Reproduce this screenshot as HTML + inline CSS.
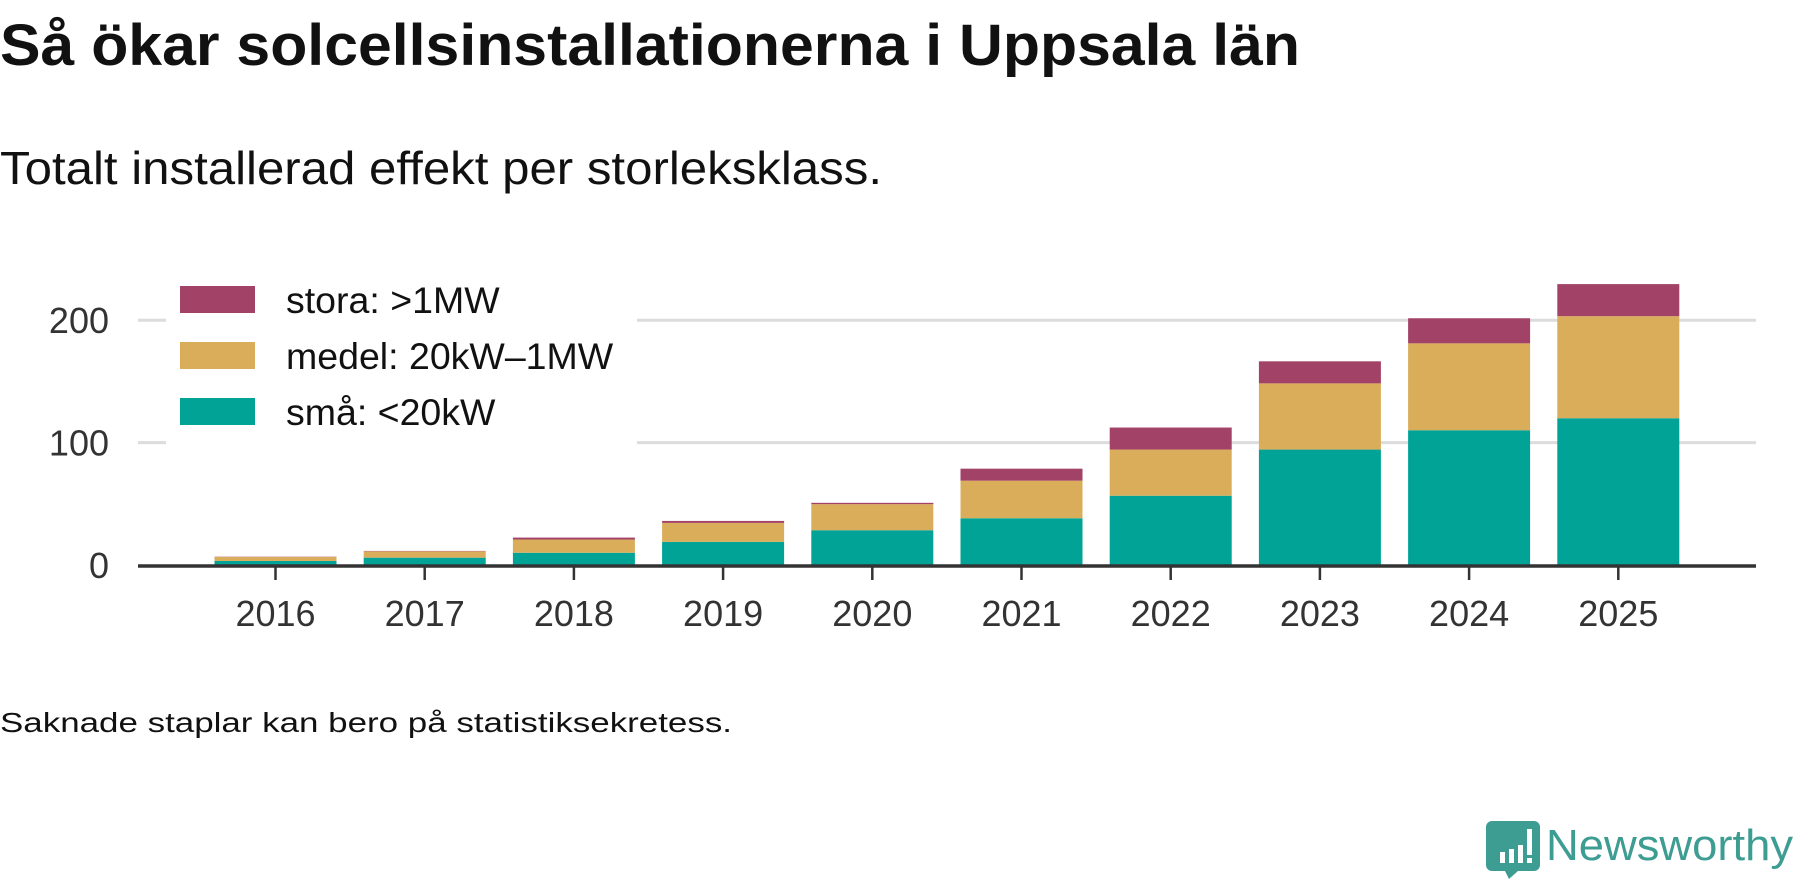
<!DOCTYPE html>
<html><head><meta charset="utf-8"><style>
html,body{margin:0;padding:0;background:#fff;width:1800px;height:879px;overflow:hidden}
svg{display:block;font-family:"Liberation Sans",sans-serif}
</style></head><body>
<svg id="chart" width="1800" height="879" viewBox="0 0 1800 879">
<text x="0" y="65" font-size="58" font-weight="bold" fill="#111" textLength="1300" lengthAdjust="spacingAndGlyphs">Så ökar solcellsinstallationerna i Uppsala län</text>
<text x="0" y="184" font-size="46" fill="#111" textLength="882" lengthAdjust="spacingAndGlyphs">Totalt installerad effekt per storleksklass.</text>
<g id="grid"></g>
<g id="yticks"></g>
<g id="bars"></g>
<g id="xaxis"></g>
<g id="legend"></g>
<text x="0" y="732" font-size="28" fill="#111" textLength="732" lengthAdjust="spacingAndGlyphs">Saknade staplar kan bero på statistiksekretess.</text>
<g>
<path d="M1492 821 h42 a6 6 0 0 1 6 6 v38 a6 6 0 0 1 -6 6 h-16 l-9 8 l-4 -8 h-13 a6 6 0 0 1 -6 -6 v-38 a6 6 0 0 1 6 -6z" fill="#3d9d92"/>
<rect x="1500" y="852" width="5" height="11" fill="#fff"/><rect x="1509" y="849" width="5" height="14" fill="#fff"/><rect x="1518" y="845" width="5" height="18" fill="#fff"/><rect x="1527" y="829" width="5" height="26" fill="#fff"/><rect x="1527" y="858" width="5" height="5" fill="#fff"/>
<text x="1546" y="860" font-size="44" fill="#3d9d92" textLength="247" lengthAdjust="spacingAndGlyphs">Newsworthy</text>
</g>
</svg>
<script>
const years = ["2016","2017","2018","2019","2020","2021","2022","2023","2024","2025"];
const sma = [3.3, 6, 10, 18.9, 28.4, 38.2, 56.6, 94.3, 110.1, 119.9];
const medel = [3.3, 5.2, 10.8, 15.5, 21.3, 30.7, 37.7, 54.1, 71, 83.4];
const stora = [0.2, 0.3, 1.6, 1.6, 1.1, 9.8, 18, 18, 20.5, 26.2];
const yTicks = [0, 100, 200];
const legendLabels = ["stora: >1MW", "medel: 20kW–1MW", "små: <20kW"];
const colors = {sma:"#00a396", medel:"#d9ad5a", stora:"#a34267"};
const NS="http://www.w3.org/2000/svg";
const y = v => 565 - v*1.224;
const x = i => 275.5 + i*149.2;
const BW = 122;
function mk(tag, attrs, parent){const e=document.createElementNS(NS,tag);for(const k in attrs)e.setAttribute(k,attrs[k]);parent.appendChild(e);return e;}
const grid=document.getElementById('grid'), yt=document.getElementById('yticks');
yTicks.forEach(t=>{
  if(t>0){const l=mk('line',{x1:138,x2:1756,y1:y(t),y2:y(t),stroke:'#dcdcdc','stroke-width':3},grid);
  
  }
  const tx=mk('text',{x:109,y:y(t)+13,'font-size':36,fill:'#333','text-anchor':'end'},yt);
  tx.textContent=t;
  
  
});
const bars=document.getElementById('bars');
years.forEach((yr,i)=>{
  let base=0;
  [['sma',sma[i]],['medel',medel[i]],['stora',stora[i]]].forEach(([k,v])=>{
    const r=mk('rect',{x:x(i)-BW/2,y:y(base+v),width:BW,height:y(base)-y(base+v),fill:colors[k]},bars);
    
    
    base+=v;
  });
});
const xa=document.getElementById('xaxis');
const ax=mk('line',{x1:138,x2:1756,y1:566,y2:566,stroke:'#333','stroke-width':3.5},xa);


years.forEach((yr,i)=>{
  mk('line',{x1:x(i),x2:x(i),y1:566,y2:580,stroke:'#333','stroke-width':2.5},xa);
  const t=mk('text',{x:x(i),y:626,'font-size':36,fill:'#333','text-anchor':'middle'},xa);
  t.textContent=yr;
  
  
});
const lg=document.getElementById('legend');
mk('rect',{x:166,y:272,width:471,height:180,fill:'#fff'},lg);
const lc=[colors.stora,colors.medel,colors.sma];
legendLabels.forEach((lab,i)=>{
  const cy=300+i*56;
  const s=mk('rect',{x:180,y:cy-14,width:75,height:27,fill:lc[i]},lg);
  
  
  const t=mk('text',{x:286,y:cy+13,'font-size':37.5,fill:'#111'},lg);
  t.textContent=lab;
  
  
});
</script>
</body></html>
